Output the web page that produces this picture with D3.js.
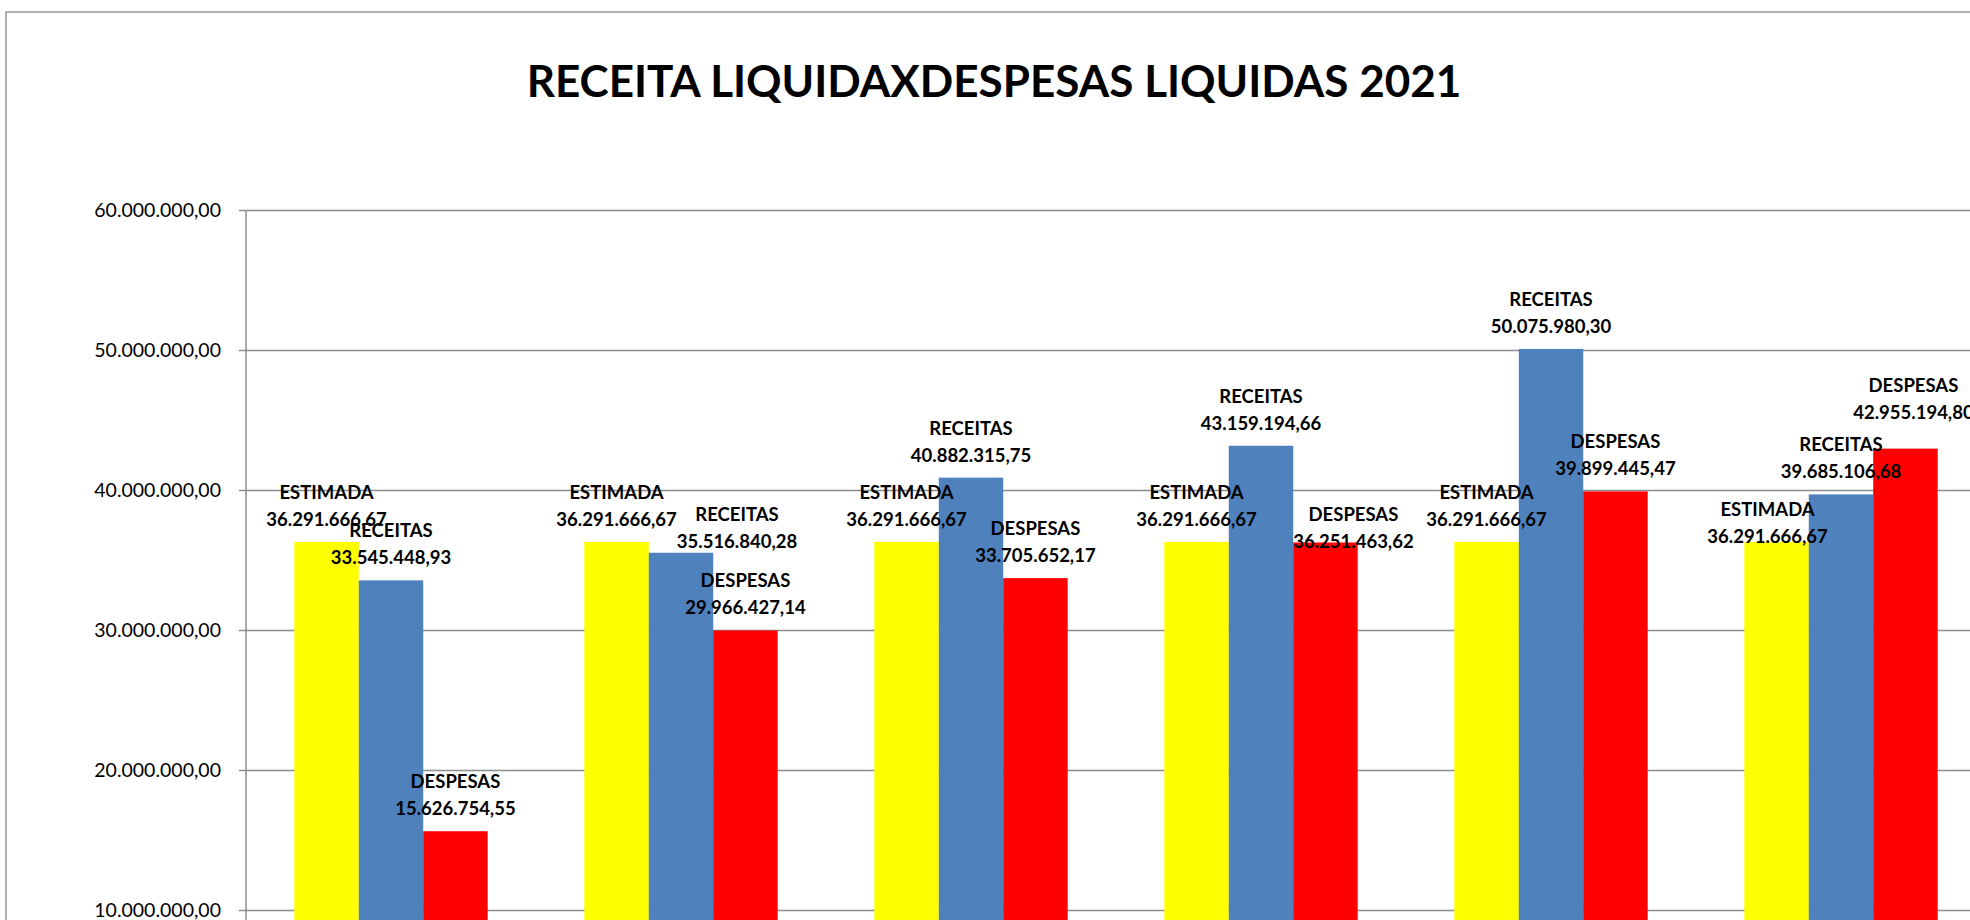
<!DOCTYPE html>
<html>
<head>
<meta charset="utf-8">
<script src="https://cdn.jsdelivr.net/npm/d3@7"></script>
<style>
  body { margin: 0; background: #fff; }
  text { font-family: Lato, "Liberation Sans", sans-serif; fill: #000; }
  .axis path { display: none; }
  .axis line { stroke: #8c8c8c; stroke-width: 1.5; }
  .axis text { font-size: 19.5px; }
  .grid line { stroke: #8c8c8c; stroke-width: 1.5; }
  .grid path, .grid text { display: none; }
  .lbl { font-size: 18.5px; font-weight: bold; }
</style>
</head>
<body>
<script>
var width = 1970;
var height = 920;

// chart data
var months = ["1", "2", "3", "4", "5", "6"];
var seriesNames = ["ESTIMADA", "RECEITAS", "DESPESAS"];
var estimada = [36291666.67, 36291666.67, 36291666.67, 36291666.67, 36291666.67, 36291666.67];
var receitas = [33545448.93, 35516840.28, 40882315.75, 43159194.66, 50075980.30, 39685106.68];
var despesas = [15626754.55, 29966427.14, 33705652.17, 36251463.62, 39899445.47, 42955194.80];
var yTicks = [10000000, 20000000, 30000000, 40000000, 50000000, 60000000];

var colors = ["#ffff00", "#4f81bd", "#ff0000"];

// labels Excel moved by hand (series index - month index)
var nudge = {
  "1-1": {dx: 56, dy: 11},
  "2-3": {dx: 28, dy: 22},
  "0-5": {dx: -9, dy: 17},
  "2-5": {dx: 8, dy: -14}
};

var rows = [];
months.forEach(function(m, i) {
  [estimada, receitas, despesas].forEach(function(s, k) {
    rows.push({month: m, i: i, k: k, name: seriesNames[k], value: s[i]});
  });
});

var br = d3.formatLocale({decimal: ",", thousands: ".", grouping: [3], currency: ["", ""]});
var fmt = br.format(",.2f");

var svg = d3.select("body").append("svg")
    .attr("width", width)
    .attr("height", height);

// chart area border
svg.append("rect")
    .attr("x", 6).attr("y", 12)
    .attr("width", 2100).attr("height", 1000)
    .attr("fill", "#fff")
    .attr("stroke", "#999")
    .attr("stroke-width", 1.5);

svg.append("text")
    .attr("x", 994)
    .attr("y", 97)
    .attr("text-anchor", "middle")
    .style("font-size", "44px")
    .style("font-weight", "bold")
    .text("RECEITA LIQUIDAXDESPESAS LIQUIDAS 2021");

var x0 = d3.scaleBand()
    .domain(months)
    .range([246, 1986])
    .paddingInner(1 / 3)
    .paddingOuter(1 / 6);

var x1 = d3.scaleBand()
    .domain(seriesNames)
    .range([0, x0.bandwidth()]);

var y = d3.scaleLinear()
    .domain([0, 60000000])
    .range([1050, 210]);

// gridlines
svg.append("g")
    .attr("class", "grid")
    .attr("transform", "translate(246,0)")
    .call(d3.axisLeft(y).tickValues(yTicks).tickSize(-1740).tickFormat(""));

var yAxis = d3.axisLeft(y)
    .tickValues(yTicks)
    .tickSize(7)
    .tickPadding(18)
    .tickFormat(fmt);

var gy = svg.append("g")
    .attr("class", "axis")
    .attr("transform", "translate(246,0)")
    .call(yAxis);

gy.append("line")
    .attr("x1", 0).attr("x2", 0)
    .attr("y1", y(60000000)).attr("y2", y(0));

// bars
svg.selectAll("rect.bar")
    .data(rows)
  .enter().append("rect")
    .attr("class", "bar")
    .attr("x", function(d) { return x0(d.month) + x1(d.name); })
    .attr("y", function(d) { return y(d.value); })
    .attr("width", x1.bandwidth())
    .attr("height", function(d) { return y(0) - y(d.value); })
    .style("fill", function(d) { return colors[d.k]; });

// data labels: name on top, value under it
var lbl = svg.selectAll("g.lbl")
    .data(rows)
  .enter().append("g")
    .attr("class", "lbl")
    .attr("transform", function(d) {
      var n = nudge[d.k + "-" + d.i] || {dx: 0, dy: 0};
      var cx = x0(d.month) + x1(d.name) + x1.bandwidth() / 2 + n.dx;
      return "translate(" + cx + "," + (y(d.value) + n.dy) + ")";
    });

lbl.append("text")
    .attr("text-anchor", "middle")
    .attr("y", -43)
    .text(function(d) { return d.name; });

lbl.append("text")
    .attr("text-anchor", "middle")
    .attr("y", -16)
    .text(function(d) { return fmt(d.value); });
</script>
</body>
</html>
